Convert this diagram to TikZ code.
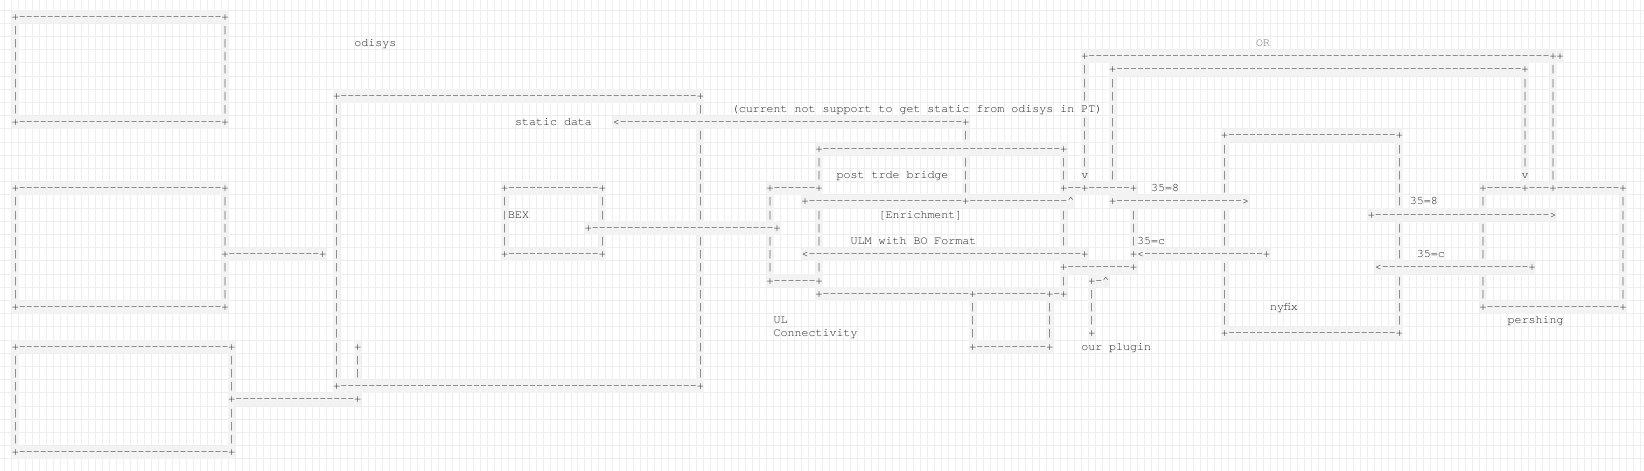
\documentclass[tikz,border=0pt]{standalone}
\usepackage{fontspec}
\setmonofont{TeX Gyre Cursor}
\definecolor{bgc}{HTML}{F3F3F3}
\definecolor{gridc}{HTML}{EEEEEE}
\definecolor{inkc}{HTML}{222222}
\definecolor{lightink}{HTML}{777777}
\newcommand\asciifont{\ttfamily\fontsize{11.65pt}{13.2pt}\selectfont}
\ExplSyntaxOn
\cs_new:Npn \dsh #1 { \prg_replicate:nn {#1} {-} }
\ExplSyntaxOff
\tikzset{
  lrun/.style={anchor=base west, inner sep=0pt, outer sep=0pt, fill=bgc, text height=9.9pt, text depth=3.3pt, font=\asciifont, text=inkc},
  trun/.style={anchor=base west, inner sep=0pt, outer sep=0pt, font=\asciifont, text=inkc},
  gridline/.style={draw=gridc, line width=1pt}
}
\newcommand\Ln[3]{\node[lrun] at ({11.8+6.99*(#2)},{-20-13.2*(#1)}) {#3};}
\newcommand\Tx[4][]{\node[trun,#1] at ({11.8+6.99*(#3)},{-20-13.2*(#2)}) {#4};}
\newcommand\Vr[3]{\foreach \rr in {#2,...,#3}{\node[lrun] at ({11.8+6.99*(#1)},{-20-13.2*\rr}) {|};}}
\begin{document}
\begin{tikzpicture}[x=1pt,y=1pt]
\useasboundingbox (0,0) rectangle (1644,-471);
\fill[white] (0,0) rectangle (1644,-471);
% grid
\foreach \k in {-1,...,233} \draw[gridline] ({11.8+6.99*\k},0) -- ({11.8+6.99*\k},-471);
\foreach \r in {0,...,34} \draw[gridline] (0,{-10.1-13.2*\r}) -- (1644,{-10.1-13.2*\r});
% Box 1
\Ln{0}{0}{+\dsh{29}+}
\Vr{0}{1}{7} \Vr{30}{1}{7}
\Ln{8}{0}{+\dsh{29}+}
% Box 2
\Ln{13}{0}{+\dsh{29}+}
\Vr{0}{14}{21} \Vr{30}{14}{17} \Vr{30}{19}{21}
\Ln{22}{0}{+\dsh{29}+}
\Ln{18}{30}{+\dsh{13}+}
% Box 3
\Ln{25}{0}{+\dsh{30}+}
\Vr{0}{26}{32} \Vr{31}{26}{28} \Vr{31}{30}{32}
\Ln{33}{0}{+\dsh{30}+}
\Ln{29}{31}{+\dsh{17}+}
\Ln{25}{49}{+}
\Vr{49}{26}{27}
% odisys
\Ln{6}{46}{+\dsh{51}+}
\Vr{46}{7}{27}
\Vr{98}{7}{7} \Vr{98}{9}{15} \Vr{98}{17}{27}
\Ln{28}{46}{+\dsh{51}+}
\Tx{2}{49}{odisys}
% static data
\Tx{8}{72}{static data}
\Ln{8}{86}{<\dsh{49}+}
\Vr{136}{9}{9} \Vr{136}{11}{13}
% BEX
\Ln{13}{70}{+\dsh{13}+}
\Vr{70}{14}{17}
\Vr{84}{14}{15} \Vr{84}{17}{17}
\Ln{18}{70}{+\dsh{13}+}
\Tx{15}{71}{BEX}
\Ln{16}{82}{+\dsh{26}+}
% note
\Tx{7}{103}{(current not support to get static from odisys in PT)}
% UL connectivity
\Ln{13}{108}{+\dsh{6}+}
\Vr{108}{14}{15} \Vr{108}{17}{19}
\Ln{20}{108}{+\dsh{6}+}
\Tx{23}{109}{UL}
\Tx{24}{109}{Connectivity}
% post trade bridge
\Ln{10}{115}{+\dsh{34}+}
\Vr{115}{11}{12} \Vr{115}{15}{17} \Vr{115}{19}{19}
\Vr{150}{11}{12} \Vr{150}{15}{17} \Vr{150}{20}{20}
\Ln{21}{115}{+\dsh{21}+\dsh{10}+-+}
\Tx{12}{118}{post trde bridge}
\Ln{14}{113}{+\dsh{22}+\dsh{14}\textasciicircum}
\Tx{15}{124}{[Enrichment]}
\Tx{17}{120}{ULM with BO Format}
\Ln{18}{113}{<\dsh{39}+}
% small box
\Vr{137}{22}{24} \Vr{148}{22}{24}
\Ln{25}{137}{+\dsh{10}+}
% our plugin
\Ln{19}{150}{+\dsh{9}+}
\Ln{20}{154}{+-\textasciicircum}
\Vr{154}{21}{23}
\Ln{24}{154}{+}
\Tx{25}{153}{our plugin}
% OR
\Tx[text=lightink]{2}{178}{OR}
\Ln{3}{153}{+\dsh{66}++}
\Ln{4}{157}{+\dsh{58}+}
\Vr{153}{4}{6} \Vr{153}{8}{11} \Ln{12}{153}{v}
\Vr{157}{5}{12}
\Vr{216}{5}{11} \Ln{12}{216}{v}
\Vr{220}{4}{12}
\Ln{13}{150}{+--+\dsh{6}+}
\Tx{13}{163}{35=8}
\Ln{14}{157}{+\dsh{18}>}
\Vr{160}{15}{17}
\Tx{17}{161}{35=c}
\Ln{18}{160}{+<\dsh{17}+}
% nyfix
\Ln{9}{173}{+\dsh{24}+}
\Vr{173}{10}{13} \Vr{173}{15}{17} \Vr{173}{19}{23}
\Vr{198}{10}{14} \Vr{198}{16}{18} \Vr{198}{20}{23}
\Ln{24}{173}{+\dsh{24}+}
\Tx{22}{180}{nyfix}
\Tx{14}{200}{35=8}
\Ln{15}{194}{+\dsh{25}>}
\Tx{18}{201}{35=c}
\Ln{19}{195}{<\dsh{21}+}
% pershing
\Ln{13}{210}{+\dsh{5}+\dsh{3}+\dsh{9}+}
\Vr{210}{14}{14} \Vr{210}{16}{18} \Vr{210}{20}{21}
\Vr{230}{14}{21}
\Ln{22}{210}{+\dsh{19}+}
\Tx{23}{214}{pershing}
\end{tikzpicture}
\end{document}
